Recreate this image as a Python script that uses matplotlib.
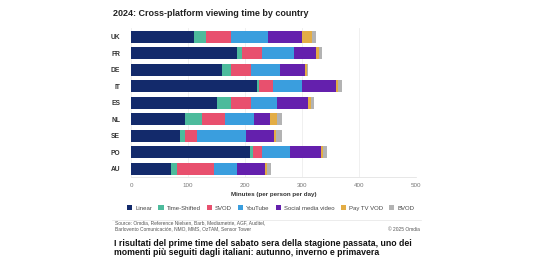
import numpy as np
import matplotlib.pyplot as plt
from matplotlib.patches import Patch
from matplotlib.lines import Line2D

plt.rcParams['font.family'] = ['Liberation Sans', 'DejaVu Sans']

countries = ['UK', 'FR', 'DE', 'IT', 'ES', 'NL', 'SE', 'PO', 'AU']
categories = ['Linear', 'Time-Shifted', 'SVOD', 'YouTube', 'Social media video', 'Pay TV VOD', 'BVOD']

# minutes per person per day
linear        = [110, 185, 160, 220, 150, 95, 86, 208, 70]
time_shifted  = [21, 10, 16, 5, 26, 30, 9, 6, 11]
svod          = [44, 35, 35, 24, 34, 40, 20, 15, 65]
youtube       = [65, 55, 50, 51, 45, 50, 86, 49, 40]
social        = [60, 40, 44, 60, 56, 29, 49, 55, 49]
paytv_vod     = [18, 4, 4, 3, 4, 12, 4, 3, 3]
bvod          = [7, 6, 2, 7, 5, 8, 11, 7, 7]

series = [linear, time_shifted, svod, youtube, social, paytv_vod, bvod]
colors = ['#132a6b', '#4dbb9c', '#e8506e', '#3a9ede', '#6420ad', '#e3ad45', '#b3b3b3']

fig = plt.figure(figsize=(5.33, 2.61), dpi=100)
ax = fig.add_axes([0.246, 0.322, 0.535, 0.569])

y = np.arange(len(countries))
left = np.zeros(len(countries))
for vals, c in zip(series, colors):
  vals = np.array(vals, dtype=float)
  ax.barh(y, vals, left=left, height=0.72, color=c, linewidth=0)
  left += vals

ax.set_ylim(len(countries) - 0.5, -0.5)
ax.set_xlim(0, 500)
ax.set_xticks([0, 100, 200, 300, 400, 500])
ax.set_yticks(y)
ax.set_yticklabels(countries, fontsize=4.8, fontweight='bold', color='#333333')
ax.tick_params(axis='x', labelsize=4.5, colors='#777777', length=0, pad=4)
ax.tick_params(axis='y', length=0, pad=8)
ax.grid(axis='x', color='#eeeeee', linewidth=0.6)
ax.set_axisbelow(True)
for s in ['top', 'right', 'left']:
  ax.spines[s].set_visible(False)
ax.spines['bottom'].set_color('#dddddd')
ax.spines['bottom'].set_linewidth(0.5)
ax.set_xlabel('Minutes (per person per day)', fontsize=4.5, fontweight='bold', color='#333333', labelpad=3)

fig.text(0.212, 0.95, '2024: Cross-platform viewing time by country', fontsize=6.5,
         fontweight='bold', color='#222222', va='center')

handles = [Patch(facecolor=c, edgecolor='none') for c in colors]
fig.legend(handles, categories, loc='center', bbox_to_anchor=(0.508, 0.203), ncol=7,
           fontsize=4.3, frameon=False, handlelength=0.9, handleheight=0.9,
           handletextpad=0.5, columnspacing=1.0, labelcolor='#444444')

fig.add_artist(Line2D([0.21, 0.79], [0.159, 0.159], color='#e4e4e4', linewidth=0.5))

fig.text(0.216, 0.155, 'Source: Omdia, Reference Nielsen, Barb, Mediametrie, AGF, Auditel,\n'
         'Barlovento Comunicación, NMO, MMS, OzTAM, Sensor Tower',
         fontsize=3.5, color='#555555', va='top', linespacing=1.2)
fig.text(0.787, 0.121, '© 2025 Omdia', fontsize=3.5, color='#555555', va='center', ha='right')

fig.text(0.213, 0.05, 'I risultati del prime time del sabato sera della stagione passata, uno dei\n'
         'momenti più seguiti dagli italiani: autunno, inverno e primavera',
         fontsize=6.3, fontweight='bold', color='#111111', va='center', linespacing=1.05)

fig.savefig('out.png', dpi=100)
